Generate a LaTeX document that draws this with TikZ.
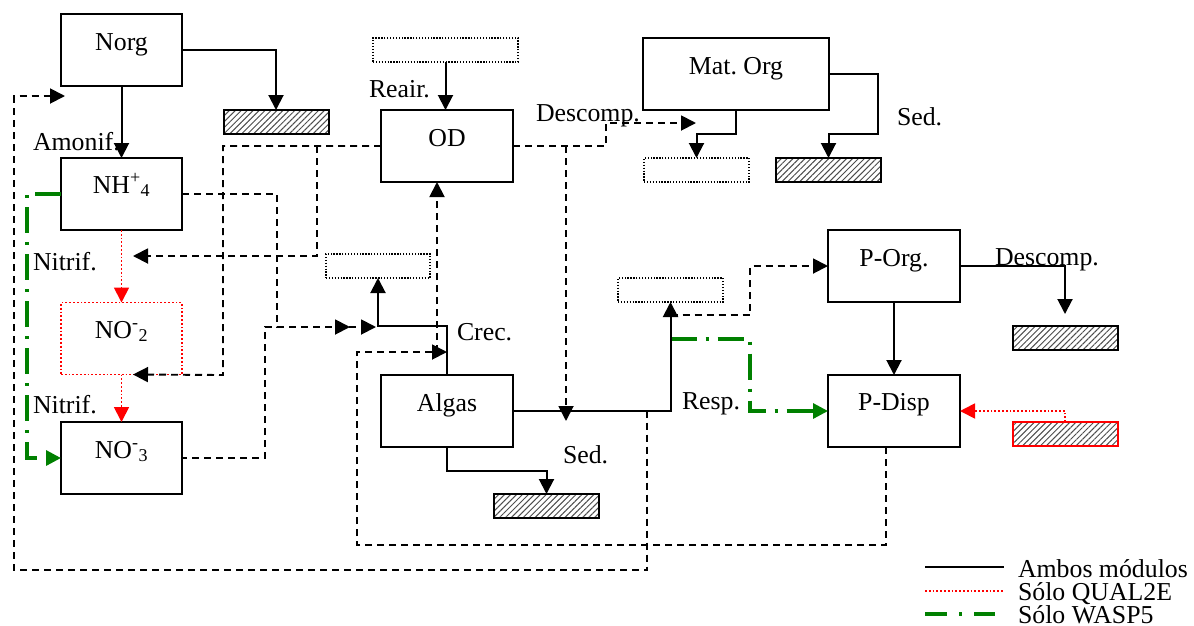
\documentclass[tikz,border=0pt]{standalone}
\usepackage{fontspec}
\setmainfont{Liberation Serif}
\usetikzlibrary{arrows.meta,patterns.meta,calc}

\begin{document}
\frenchspacing
\begin{tikzpicture}[x=1pt,y=-1pt,
  every node/.style={font=\fontsize{25.8}{30}\selectfont, inner sep=0pt, outer sep=0pt},
  box/.style={draw=black, line width=2pt, minimum width=121pt, minimum height=72pt},
  qualbox/.style={box, draw=red, line width=1.8pt, dash pattern=on 1.8pt off 2pt},
  sedbox/.style={draw=black, line width=2pt, minimum width=105pt, minimum height=24pt,
    pattern={Lines[angle=45,distance=4.2pt,line width=1pt]}, pattern color=black!70},
  openbox/.style={draw=black, line width=1.3pt, dash pattern=on 1.3pt off 1.6pt, minimum height=24pt},
  tip/.style={-{Triangle[length=15pt,width=15pt]}},
  flow/.style={tip, line width=2pt},
  dflow/.style={tip, line width=1.9pt, dash pattern=on 7pt off 5pt},
  rflow/.style={red, line width=1.8pt, dash pattern=on 1.8pt off 2pt, -{Triangle[length=15pt,width=15pt]}},
  gflow/.style={green!50!black, line width=3.2pt, dash pattern=on 26pt off 9pt on 3pt off 9pt, tip},
  lbl/.style={anchor=base west},
  keytext/.style={lbl, text depth=0pt, text height=19pt},
  ctr/.style={anchor=base}
]
\useasboundingbox (0,0) rectangle (1194,625);

% compartments
\node[box] (norg) at (121.5,50) {};
\node[box] (nh4) at (121.5,194) {};
\node[qualbox] (no2) at (121.5,338.5) {};
\node[box] (no3) at (121.5,458) {};
\node[box, minimum width=132pt] (od) at (447,146) {};
\node[box, minimum width=186pt] (matorg) at (736,74) {};
\node[box, minimum width=132pt] (algas) at (447,410.5) {};
\node[box, minimum width=132pt] (porg) at (894,266) {};
\node[box, minimum width=132pt] (pdisp) at (894,411) {};

% compartment names
\node[ctr] (norgT) at (121.5,50) {Norg};
\node[ctr] (nh4T) at (121.5,193) {NH\textsuperscript{+}\textsubscript{4}};
\node[ctr] (no2T) at (121.5,338) {NO\textsuperscript{-}\textsubscript{2}};
\node[ctr] (no3T) at (121.5,458) {NO\textsuperscript{-}\textsubscript{3}};
\node[ctr] (odT) at (447,146) {OD};
\node[ctr] (matorgT) at (736,74) {Mat. Org};
\node[ctr] (algasT) at (447,411) {Algas};
\node[ctr] (porgT) at (894,266) {P-Org.};
\node[ctr] (pdispT) at (894,410) {P-Disp};

% sediment layers
\node[sedbox] (sedN) at (276,122) {};
\node[sedbox] (sedM) at (828.5,170) {};
\node[sedbox] (sedA) at (546.5,506) {};
\node[sedbox] (sedP) at (1065,338) {};
\node[sedbox, draw=red] (srcP) at (1065,434) {};

% open sources and sinks
\node[openbox, minimum width=145pt] (srcO) at (445.5,50) {};
\node[openbox, minimum width=105pt] (sinkM) at (696.5,170) {};
\node[openbox, minimum width=104pt] (sinkC) at (378,266) {};
\node[openbox, minimum width=105pt] (sinkR) at (670.5,290) {};

% process labels
\node[lbl] (amonif) at (33,150) {Amonif.};
\node[lbl] (nitrif1) at (33,270) {Nitrif.};
\node[lbl] (nitrif2) at (33,413) {Nitrif.};
\node[lbl] (reair) at (369,97) {Reair.};
\node[lbl] (descO) at (536,121) {Descomp.};
\node[lbl] (sedMT) at (897,125) {Sed.};
\node[lbl] (crec) at (457,340) {Crec.};
\node[lbl] (resp) at (682,409) {Resp.};
\node[lbl] (sedAT) at (563,463) {Sed.};
\node[lbl] (descP) at (995,265) {Descomp.};

% junctions and free ends
\coordinate (norgIn) at (65,96);
\coordinate (loopA) at (647,410.5);
\coordinate (nitA) at (133,256);
\coordinate (odJ) at (317,146);
\coordinate (odJ2) at (566,146);
\coordinate (descIn) at (696,123);
\coordinate (upA) at (447,352);
\coordinate (upB) at (437,352);
\coordinate (respJ) at (670.5,315);
\coordinate (respG) at (670.5,339);
\coordinate (nh4Tip) at (350,327);
\coordinate (no3Tip) at (376,327);
\coordinate (algJ) at (566,421);

% oxygen and nutrient exchanges (both modules, dashed)
\draw[dflow] (loopA) -- (647,570) -- (14,570) -- (14,96) -- (norgIn);
\draw[dflow] ([xshift=-8pt]pdisp.south) -- (886,545) -- (357,545) -- (357,352) -- (upA);
\draw[dflow] (od.west) -- (223,146) -- (223,375) -- ([xshift=11.5pt]no2.south);
\draw[dflow] (odJ) -- (317,256) -- (nitA);
\draw[dflow] (nh4.east) -- (277,194) -- (277,327) -- (nh4Tip);
\draw[dflow, dash phase=2pt] (no3.east) -- (265,458) -- (265,327) -- (no3Tip);
\draw[dflow] (upB) -- ([xshift=-10pt]od.south);
\draw[dflow] (od.east) -- (606,146) -- (606,123) -- (descIn);
\draw[dflow] (odJ2) -- (algJ);
\draw[dflow] (respJ) -- (750,315) |- (porg.west);

% WASP5-only paths
\draw[gflow] (nh4.west) -- (27,194) -- (27,458) -- (no3.west);
\draw[gflow] (respG) -- (750,339) -- (750,411) -- (pdisp.west);

% QUAL2E-only paths
\draw[rflow] (nh4.south) -- (no2.north);
\draw[rflow] (no2.south) -- (no3.north);
\draw[rflow] (srcP.north) |- (pdisp.east);

% main fluxes
\draw[flow] (norg.south) -- (nh4.north);
\draw[flow] (norg.east) -| (sedN.north);
\draw[flow] (srcO.south) -- (srcO.south |- od.north);
\draw[flow] (matorg.south) -- ++(0,24) -| (sinkM.north);
\draw[flow] (matorg.east) -- ++(49,0) -- ++(0,60) -| (sedM.north);
\draw[flow] (algas.north) -- ++(0,-49) -| (sinkC.south);
\draw[flow] (algas.east) -| (sinkR.south);
\draw[flow] (algas.south) -- ++(0,24) -| (sedA.north);
\draw[flow] (porg.south) -- (pdisp.north);
\draw[flow] (porg.east) -| ([yshift=12pt]sedP.north);

% legend
\coordinate (lgA1) at (925,567); \coordinate (lgA2) at (1004,567);
\coordinate (lgB1) at (925,591); \coordinate (lgB2) at (1004,591);
\coordinate (lgC1) at (925,614); \coordinate (lgC2) at (995,614);
\draw[line width=2pt] (lgA1) -- (lgA2);
\draw[red, line width=1.8pt, dash pattern=on 1.8pt off 2pt] (lgB1) -- (lgB2);
\draw[green!50!black, line width=3.2pt, dash pattern=on 22pt off 12pt on 3pt off 12pt] (lgC1) -- (lgC2);
\node[keytext] (lgAT) at (1018,577) {Ambos módulos};
\node[keytext] (lgBT) at (1018,600) {Sólo QUAL2E};
\node[keytext] (lgCT) at (1018,623) {Sólo WASP5};
\end{tikzpicture}
\end{document}
